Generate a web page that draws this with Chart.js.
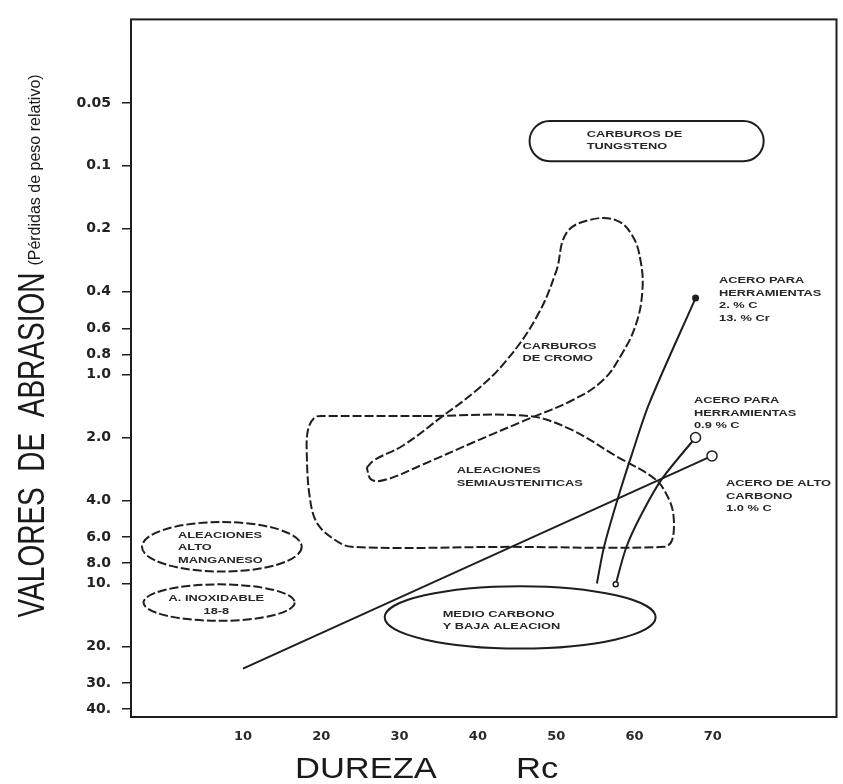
<!DOCTYPE html>
<html lang="es">
<head>
<meta charset="utf-8">
<title>Valores de abrasión - Dureza Rc</title>
<script src="https://cdn.jsdelivr.net/npm/chart.js@4.4.1/dist/chart.umd.min.js"></script>
<style>
  html, body { margin: 0; padding: 0; background: #fff; }
</style>
</head>
<body>
<canvas id="abrasionChart" width="843" height="784"></canvas>
<script>
// Axis ticks
const hardnessTicks = [10, 20, 30, 40, 50, 60, 70];
const abrasionTicks = [0.05, 0.1, 0.2, 0.4, 0.6, 0.8, 1, 2, 4, 6, 8, 10, 20, 30, 40];
const abrasionTickLabels = ['0.05', '0.1', '0.2', '0.4', '0.6', '0.8', '1.0', '2.0', '4.0', '6.0', '8.0', '10.', '20.', '30.', '40.'];

// Steel curves: [Rc, relative weight loss]
const aceroHerr2C = [[55.2, 10.0], [56.1, 6.7], [57.8, 4.0], [59.6, 2.45], [61.9, 1.37], [67.8, 0.43]];
const aceroHerr09C = [[57.6, 10.1], [58.9, 6.8], [60.6, 4.9], [63.4, 3.2], [67.8, 2.0]];
const aceroAltoCarbono = [[10, 25.6], [69.9, 2.45]];

// Dashed outlines (closed)
const carburosCromo = [
  [25.8, 2.79], [26.8, 2.56], [30.4, 2.19], [35.5, 1.58], [39.8, 1.19], [43.6, 0.86],
  [47.5, 0.53], [50.0, 0.32], [51.3, 0.21], [54.2, 0.182], [57.6, 0.182], [59.7, 0.215],
  [60.8, 0.288], [61.0, 0.40], [60.2, 0.573], [58.4, 0.795], [55.9, 1.07], [52.0, 1.33],
  [46.6, 1.62], [39.3, 2.12], [32.9, 2.70], [28.3, 3.18], [26.4, 3.18], [25.8, 2.79]
];
const semiausteniticas = [
  [33.0, 1.58], [46.6, 1.58], [52.0, 1.84], [57.6, 2.45], [62.7, 3.18], [64.4, 3.95],
  [65.0, 4.8], [64.8, 6.2], [63.8, 6.68], [44.0, 6.68], [23.9, 6.68], [21.5, 6.1],
  [19.4, 5.1], [18.5, 3.8], [18.15, 2.4], [18.3, 1.84], [19.2, 1.60], [20.5, 1.58], [33.0, 1.58]
];

// Oval regions: Rc range, weight loss range
const carburosTungsteno = { rc: [46.6, 76.5], loss: [0.061, 0.095] };
const medioCarbono = { rc: [28.1, 62.7], loss: [10.3, 20.5] };
const altoManganeso = { rc: [-2.9, 17.5], loss: [5.08, 8.77] };
const inoxidable = { rc: [-2.7, 16.6], loss: [10.1, 15.1] };

const ink = '#1e1e1e';
const sans = '"Liberation Sans", Arial, sans-serif';

const regions = [
  { box: carburosTungsteno, shape: 'stadium', dashed: false },
  { box: medioCarbono, shape: 'ellipse', dashed: false },
  { box: altoManganeso, shape: 'ellipse', dashed: true },
  { box: inoxidable, shape: 'ellipse', dashed: true }
];

const regionLabels = [
  { at: [53.9, 0.0705], lines: ['CARBUROS DE', 'TUNGSTENO'] },
  { at: [45.7, 0.729], lines: ['CARBUROS', 'DE CROMO'] },
  { at: [37.3, 2.88], lines: ['ALEACIONES', 'SEMIAUSTENITICAS'] },
  { at: [1.7, 5.86], lines: ['ALEACIONES', 'ALTO', 'MANGANESO'] },
  { at: [6.6, 11.8], lines: ['A. INOXIDABLE', '18-8'], align: 'center' },
  { at: [35.5, 14.0], lines: ['MEDIO CARBONO', 'Y BAJA ALEACION'] },
  { at: [70.8, 0.355], lines: ['ACERO PARA', 'HERRAMIENTAS', '2. % C', '13. % Cr'] },
  { at: [67.6, 1.33], lines: ['ACERO PARA', 'HERRAMIENTAS', '0.9 % C'] },
  { at: [71.7, 3.32], lines: ['ACERO DE ALTO', 'CARBONO', '1.0 % C'] }
];

const toPoints = arr => arr.map(([x, y]) => ({ x, y }));

// draws text stretched horizontally
const drawText = (ctx, text, x, y, sx, align) => {
  ctx.save();
  ctx.translate(x, y);
  ctx.scale(sx, 1);
  ctx.textAlign = align || 'left';
  ctx.fillText(text, 0, 0);
  ctx.restore();
};

const regionsPlugin = {
  id: 'regions',
  beforeDatasetsDraw(chart) {
    const { ctx, scales: { x, y } } = chart;
    regions.forEach(r => {
      const x0 = x.getPixelForValue(r.box.rc[0]);
      const x1 = x.getPixelForValue(r.box.rc[1]);
      const y0 = y.getPixelForValue(r.box.loss[0]);
      const y1 = y.getPixelForValue(r.box.loss[1]);
      ctx.save();
      ctx.lineWidth = 2;
      ctx.strokeStyle = ink;
      ctx.setLineDash(r.dashed ? [9, 3] : []);
      ctx.beginPath();
      if (r.shape === 'stadium') {
        ctx.roundRect(x0, y0, x1 - x0, y1 - y0, (y1 - y0) / 2);
      } else {
        ctx.ellipse((x0 + x1) / 2, (y0 + y1) / 2, (x1 - x0) / 2, (y1 - y0) / 2, 0, 0, Math.PI * 2);
      }
      ctx.stroke();
      ctx.restore();
    });
  },
  afterDatasetsDraw(chart) {
    const { ctx, scales: { x, y } } = chart;
    ctx.save();
    ctx.fillStyle = '#262626';
    ctx.font = 'bold 9.5px ' + sans;
    ctx.textBaseline = 'middle';
    regionLabels.forEach(lbl => {
      const px = x.getPixelForValue(lbl.at[0]);
      const py = y.getPixelForValue(lbl.at[1]);
      lbl.lines.forEach((t, i) => drawText(ctx, t, px, py + i * 12.5, 1.35, lbl.align));
    });
    ctx.restore();
  },
  afterDraw(chart) {
    const { ctx, chartArea: a } = chart;
    ctx.save();
    // frame
    ctx.strokeStyle = ink;
    ctx.lineWidth = 2;
    ctx.strokeRect(a.left, a.top, a.right - a.left, a.bottom - a.top);

    ctx.fillStyle = '#1a1a1a';
    ctx.textBaseline = 'alphabetic';

    // y title
    ctx.save();
    ctx.translate(44, 445);
    ctx.rotate(-Math.PI / 2);
    ctx.scale(1, 1.35);
    ctx.font = '28px ' + sans;
    ctx.textAlign = 'center';
    ctx.fillText('VALORES  DE  ABRASION', 0, 0);
    ctx.restore();

    ctx.save();
    ctx.translate(40, 170);
    ctx.rotate(-Math.PI / 2);
    ctx.font = '16px ' + sans;
    ctx.textAlign = 'center';
    ctx.fillText('(Pérdidas de peso relativo)', 0, 0);
    ctx.restore();

    // x title
    ctx.font = '30px ' + sans;
    drawText(ctx, 'DUREZA', 295, 778, 1.15);
    drawText(ctx, 'Rc', 516, 778, 1.15);
    ctx.restore();
  }
};

const lineSet = (data, extra) => Object.assign({
  data: toPoints(data),
  showLine: true,
  borderColor: ink,
  borderWidth: 2,
  pointRadius: 0,
  tension: 0.3
}, extra);

new Chart(document.getElementById('abrasionChart'), {
  type: 'scatter',
  data: {
    datasets: [
      lineSet(carburosCromo, { borderDash: [9, 3], tension: 0.4 }),
      lineSet(semiausteniticas, { borderDash: [9, 3], tension: 0.35 }),
      lineSet(aceroHerr2C, {
        pointRadius: [0, 0, 0, 0, 0, 2.5],
        pointBackgroundColor: ink,
        pointBorderColor: ink
      }),
      lineSet(aceroHerr09C, {
        pointRadius: [2.5, 0, 0, 0, 5],
        pointBackgroundColor: '#fff',
        pointBorderColor: ink,
        pointBorderWidth: 1.5
      }),
      lineSet(aceroAltoCarbono, {
        tension: 0,
        pointRadius: [0, 5],
        pointBackgroundColor: '#fff',
        pointBorderColor: ink,
        pointBorderWidth: 1.5
      })
    ]
  },
  options: {
    responsive: false,
    animation: false,
    layout: {
      padding: { top: 12, right: 5, left: 0, bottom: 0 }
    },
    plugins: {
      legend: { display: false },
      tooltip: { enabled: false }
    },
    scales: {
      x: {
        type: 'linear',
        min: -4.3,
        max: 85.8,
        afterBuildTicks: scale => {
          scale.ticks = hardnessTicks.map(v => ({ value: v }));
        },
        afterFit: scale => { scale.height = 67; },
        grid: { display: false, drawTicks: false },
        border: { display: false },
        ticks: {
          padding: 12,
          color: '#2a2a2a',
          font: { family: '"DejaVu Sans"', size: 13, weight: 'bold' }
        }
      },
      y: {
        type: 'logarithmic',
        reverse: true,
        min: 0.0199,
        max: 43.6,
        afterBuildTicks: scale => {
          scale.ticks = abrasionTicks.map(v => ({ value: v }));
        },
        afterFit: scale => { scale.width = 131; },
        grid: {
          drawOnChartArea: false,
          tickLength: 9,
          color: ink,
          lineWidth: 1.5
        },
        border: { display: false },
        ticks: {
          padding: 11,
          color: '#222',
          font: { family: '"DejaVu Sans"', size: 14, weight: 'bold' },
          callback: (value, index) => abrasionTickLabels[index]
        }
      }
    }
  },
  plugins: [regionsPlugin]
});
</script>
</body>
</html>
